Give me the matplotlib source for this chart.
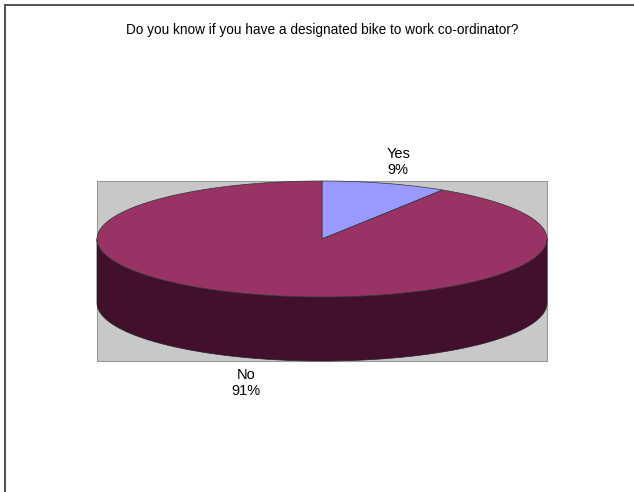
import numpy as np
import matplotlib
matplotlib.use("Agg")
import matplotlib.pyplot as plt
from matplotlib.patches import Polygon, Rectangle

title = "Do you know if you have a designated bike to work co-ordinator?"
labels = ["Yes", "No"]
shares = [9, 91]
top_colors = ["#9999FF", "#993366"]
side_colors = ["#4d4d80", "#420F2D"]

plt.rcParams["font.family"] = ["Liberation Sans", "DejaVu Sans"]

fig = plt.figure(figsize=(6.34, 4.92), dpi=100)
ax = fig.add_axes([0, 0, 1, 1])
ax.set_xlim(0, 634)
ax.set_ylim(492, 0)
ax.axis("off")

# outer frame (top and left only)
ax.plot([4.5, 634], [4.5, 4.5], color="#333333", lw=1.2)
ax.plot([4.5, 4.5], [4.5, 492], color="#555555", lw=1.5)

ax.text(322, 30, title, ha="center", va="center", fontsize=9.8)

# plot area
ax.add_patch(Rectangle((97, 181), 450, 180, facecolor="#C8C8C8",
                       edgecolor="#999999", lw=0.8))

cx, cy, rx, ry, depth = 322, 239, 225, 58, 64


def ring(a1, a2, n=200):
    t = np.radians(np.linspace(a1, a2, n))
    return cx + rx * np.cos(t), cy - ry * np.sin(t)


# slices run clockwise from 12 o'clock
total = sum(shares)
starts = []
angle = 90.0
for s in shares:
    starts.append((angle, angle - 360.0 * s / total))
    angle -= 360.0 * s / total

# side walls on the front half (angles -180..0)
for (a1, a2), col in zip(starts, side_colors):
    for shift in (0, -360):
        lo = max(min(a1, a2), -180 + shift)
        hi = min(max(a1, a2), 0 + shift)
        if hi > lo:
            xs, ys = ring(hi, lo)
            pts = np.column_stack([np.r_[xs, xs[::-1]], np.r_[ys, ys[::-1] + depth]])
            ax.add_patch(Polygon(pts, closed=True, facecolor=col,
                                 edgecolor="#222222", lw=0.5))

# top face
for (a1, a2), col in zip(starts, top_colors):
    xs, ys = ring(a1, a2)
    pts = np.column_stack([np.r_[cx, xs], np.r_[cy, ys]])
    ax.add_patch(Polygon(pts, closed=True, facecolor=col,
                         edgecolor="#333333", lw=0.5))

# labels
for (a1, a2), lab, s in zip(starts, labels, shares):
    mid = np.radians((a1 + a2) / 2)
    lx = cx + 1.15 * rx * np.cos(mid)
    ly = cy - 1.15 * ry * np.sin(mid)
    if np.sin(mid) >= 0:
        ax.text(lx + 4, ly + 2, f"{lab}\n{s}%", ha="center", va="bottom",
                fontsize=10.5, linespacing=1.15)
    else:
        ax.text(lx - 4, ly + depth + 1, f"{lab}\n{s}%", ha="center", va="top",
                fontsize=10.5, linespacing=1.15)

fig.savefig("out.png", dpi=100)
